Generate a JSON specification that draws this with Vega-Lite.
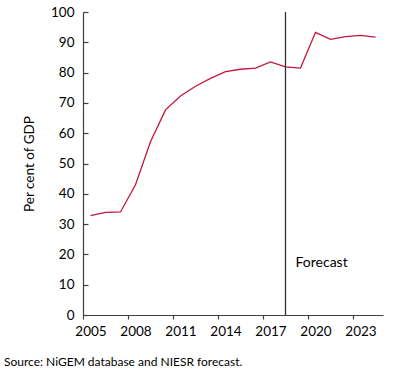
{
  "$schema": "https://vega.github.io/schema/vega-lite/v6.json",
  "autosize": "none",
  "width": 300,
  "height": 303,
  "padding": {"left": 83, "top": 12, "right": 13, "bottom": 63},
  "background": "white",
  "config": {
    "view": {"stroke": null},
    "font": "Lato",
    "axis": {"grid": false, "domainColor": "#404040", "tickColor": "#404040", "labelColor": "#000000", "labelFont": "Lato", "labelFontSize": 13.5, "titleFont": "Lato", "titleFontWeight": "normal", "titleFontSize": 13.5, "titleColor": "#000000", "domainWidth": 1.2, "tickWidth": 1.2}
  },
  "title": {
    "text": "Source: NiGEM database and NIESR forecast.",
    "orient": "bottom",
    "anchor": "start",
    "frame": "group",
    "dx": -79,
    "offset": 19,
    "font": "Lato",
    "fontSize": 12,
    "fontWeight": "normal",
    "color": "#000000"
  },
  "resolve": {"axis": {"x": "independent", "y": "independent"}, "scale": {"x": "shared", "y": "shared"}},
  "datasets": {
    "debt": [
      {"year": 2005, "value": 32.8},
      {"year": 2006, "value": 33.9},
      {"year": 2007, "value": 34.0},
      {"year": 2008, "value": 43.0},
      {"year": 2009, "value": 57.2},
      {"year": 2010, "value": 67.7},
      {"year": 2011, "value": 72.3},
      {"year": 2012, "value": 75.5},
      {"year": 2013, "value": 78.1},
      {"year": 2014, "value": 80.3},
      {"year": 2015, "value": 81.1},
      {"year": 2016, "value": 81.5},
      {"year": 2017, "value": 83.5},
      {"year": 2018, "value": 81.9},
      {"year": 2019, "value": 81.5},
      {"year": 2020, "value": 93.3},
      {"year": 2021, "value": 91.0},
      {"year": 2022, "value": 91.9},
      {"year": 2023, "value": 92.3},
      {"year": 2024, "value": 91.7}
    ],
    "marker": [{"year": 2018, "value": 17, "label": "Forecast"}]
  },
  "layer": [
    {
      "data": {"name": "debt"},
      "mark": {"type": "line", "color": "#C4153C", "strokeWidth": 1.3},
      "encoding": {
        "x": {
          "field": "year",
          "type": "quantitative",
          "scale": {"domain": [2004.5, 2024.5], "nice": false, "zero": false},
          "axis": {
            "title": null,
            "values": [2004.5, 2007.5, 2010.5, 2013.5, 2016.5, 2019.5, 2022.5],
            "labelExpr": "format(datum.value + 0.5, 'd')",
            "labelOffset": 7.5,
            "ticks": true,
            "tickSize": 4,
            "labelPadding": 5,
            "labelFlush": false,
            "labelOverlap": false
          }
        },
        "y": {
          "field": "value",
          "type": "quantitative",
          "scale": {"domain": [0, 100], "nice": false},
          "axis": {
            "title": "Per cent of GDP",
            "values": [0, 10, 20, 30, 40, 50, 60, 70, 80, 90, 100],
            "ticks": true,
            "tickSize": -5,
            "labelPadding": 14,
            "titlePadding": 14,
            "labelOverlap": false
          }
        }
      }
    },
    {
      "data": {"name": "marker"},
      "mark": {"type": "rule", "color": "#333333", "strokeWidth": 1.3, "y": 0, "y2": {"expr": "height"}},
      "encoding": {
        "x": {"field": "year", "type": "quantitative", "axis": null}
      }
    },
    {
      "data": {"name": "marker"},
      "mark": {"type": "text", "align": "left", "baseline": "middle", "dx": 10, "fontSize": 14, "font": "Lato", "color": "#000000"},
      "encoding": {
        "x": {"field": "year", "type": "quantitative", "axis": null},
        "y": {"field": "value", "type": "quantitative", "axis": null},
        "text": {"field": "label"}
      }
    }
  ]
}
